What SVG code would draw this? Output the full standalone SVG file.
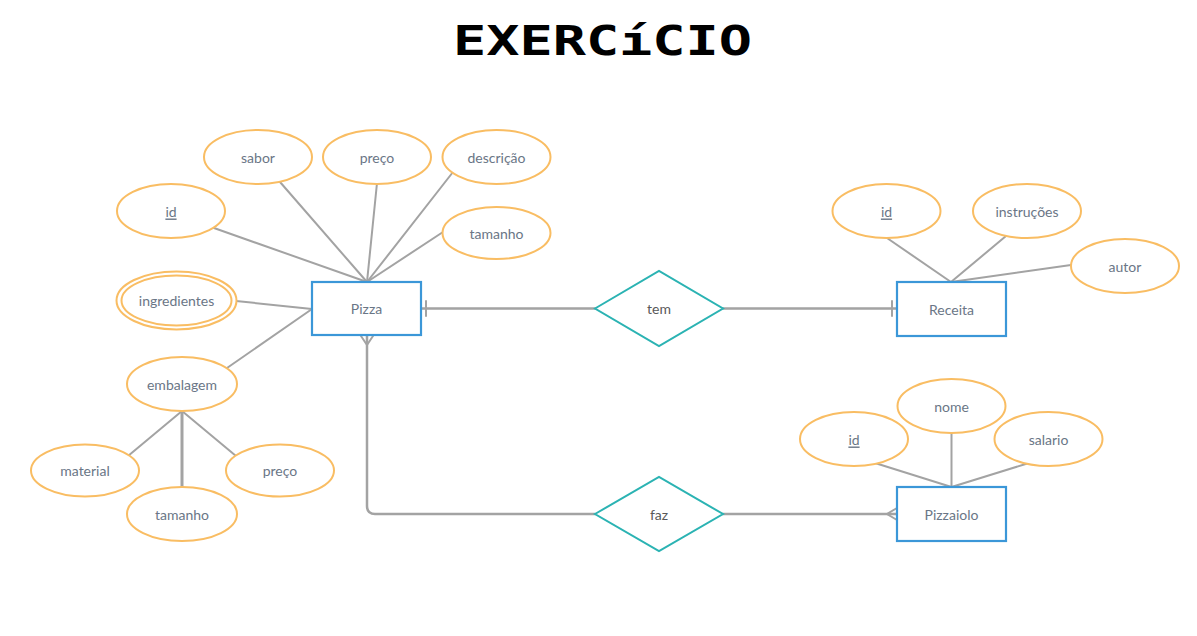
<svg xmlns="http://www.w3.org/2000/svg" width="1197" height="636" viewBox="0 0 1197 636">
<style>
.attr{fill:#ffffff;stroke:#f9bd63;stroke-width:2}
.ent{fill:#ffffff;stroke:#3b97d8;stroke-width:2.2}
.rel{fill:#ffffff;stroke:#2bb3b3;stroke-width:2}
.ln{fill:none;stroke:#a3a3a3;stroke-width:2;stroke-linecap:round}
.t{font-family:Lato,"Open Sans","Liberation Sans",sans-serif;font-size:14px;fill:#6a7686;text-anchor:middle;dominant-baseline:central}
.rt{fill:#595959}
.u{text-decoration:underline}
.title{font-family:"DejaVu Sans Mono","Liberation Mono",monospace;font-weight:bold;font-size:41px;fill:#000000}
</style>
<rect width="1197" height="636" fill="#ffffff"/>
<text class="title" x="453" y="55" textLength="299" lengthAdjust="spacingAndGlyphs">EXERCíCIO</text>

<g id="connectors">
  <!-- Pizza attributes -->
  <line class="ln" x1="214" y1="228" x2="367" y2="282"/>
  <line class="ln" x1="280" y1="182" x2="367" y2="282"/>
  <line class="ln" x1="377" y1="183" x2="367" y2="282"/>
  <line class="ln" x1="453" y1="172" x2="367" y2="282"/>
  <line class="ln" x1="443" y1="232" x2="367" y2="282"/>
  <line class="ln" x1="236" y1="301" x2="312" y2="309"/>
  <line class="ln" x1="227" y1="368" x2="312" y2="309"/>
  <line class="ln" x1="182" y1="411" x2="128" y2="456"/>
  <line class="ln" x1="182" y1="411" x2="182" y2="487" style="stroke-width:3"/>
  <line class="ln" x1="182" y1="411" x2="236" y2="456"/>
  <!-- Receita attributes -->
  <line class="ln" x1="887" y1="238" x2="951" y2="282"/>
  <line class="ln" x1="1006" y1="236" x2="951" y2="282"/>
  <line class="ln" x1="1071" y1="265" x2="951" y2="282"/>
  <!-- Pizzaiolo attributes -->
  <line class="ln" x1="875" y1="463" x2="951.5" y2="487"/>
  <line class="ln" x1="951.5" y1="433" x2="951.5" y2="487"/>
  <line class="ln" x1="1029" y1="463" x2="951.5" y2="487"/>
  <!-- Pizza - tem - Receita -->
  <line class="ln" x1="421" y1="308.5" x2="595" y2="308.5" style="stroke-width:2.5"/>
  <line class="ln" x1="426" y1="301" x2="426" y2="316"/>
  <line class="ln" x1="723" y1="308.5" x2="897" y2="308.5" style="stroke-width:2.5"/>
  <line class="ln" x1="892" y1="301" x2="892" y2="316"/>
  <!-- Pizza - faz - Pizzaiolo -->
  <path class="ln" d="M367 336 V506 Q367 514 375 514 H595" style="stroke-width:2.5"/>
  <path class="ln" d="M361 336 L367 345 L373 336"/>
  <path class="ln" d="M723 514 H897" style="stroke-width:2.5"/>
  <path class="ln" d="M897 508 L887 514 L897 520"/>
</g>

<g id="pizza">
  <rect class="ent" x="312" y="282" width="109" height="53"/>
  <text class="t" x="366.5" y="308.5">Pizza</text>
</g>
<g id="receita">
  <rect class="ent" x="897" y="282" width="109" height="54"/>
  <text class="t" x="951.5" y="309">Receita</text>
</g>
<g id="pizzaiolo">
  <rect class="ent" x="897" y="487" width="109" height="54"/>
  <text class="t" x="951.5" y="514">Pizzaiolo</text>
</g>

<g id="tem">
  <polygon class="rel" points="595,308.5 659,271 723,308.5 659,346"/>
  <text class="t rt" x="659" y="308.5">tem</text>
</g>
<g id="faz">
  <polygon class="rel" points="595,514 659,477 723,514 659,551"/>
  <text class="t rt" x="659" y="514">faz</text>
</g>

<g id="pizza-id">
  <ellipse class="attr" cx="171" cy="211" rx="54" ry="27"/>
  <text class="t u" x="171" y="211">id</text>
</g>
<g id="pizza-sabor">
  <ellipse class="attr" cx="258" cy="157" rx="54" ry="27"/>
  <text class="t" x="258" y="157">sabor</text>
</g>
<g id="pizza-preco">
  <ellipse class="attr" cx="377" cy="157" rx="54" ry="27"/>
  <text class="t" x="377" y="157">preço</text>
</g>
<g id="pizza-descricao">
  <ellipse class="attr" cx="496.5" cy="157" rx="54" ry="27"/>
  <text class="t" x="496.5" y="157">descrição</text>
</g>
<g id="pizza-tamanho">
  <ellipse class="attr" cx="496.5" cy="233" rx="54" ry="26"/>
  <text class="t" x="496.5" y="233">tamanho</text>
</g>
<g id="pizza-ingredientes">
  <ellipse class="attr" cx="176.5" cy="300.5" rx="60" ry="29"/>
  <ellipse class="attr" cx="176.5" cy="300.5" rx="55" ry="25"/>
  <text class="t" x="176.5" y="300.5">ingredientes</text>
</g>
<g id="pizza-embalagem">
  <ellipse class="attr" cx="182" cy="384" rx="55" ry="27"/>
  <text class="t" x="182" y="384">embalagem</text>
</g>
<g id="emb-material">
  <ellipse class="attr" cx="85" cy="470.5" rx="54" ry="26"/>
  <text class="t" x="85" y="470.5">material</text>
</g>
<g id="emb-tamanho">
  <ellipse class="attr" cx="182" cy="514" rx="55" ry="27"/>
  <text class="t" x="182" y="514">tamanho</text>
</g>
<g id="emb-preco">
  <ellipse class="attr" cx="280" cy="470.5" rx="54" ry="26"/>
  <text class="t" x="280" y="470.5">preço</text>
</g>

<g id="receita-id">
  <ellipse class="attr" cx="886.5" cy="211" rx="54" ry="27"/>
  <text class="t u" x="886.5" y="211">id</text>
</g>
<g id="receita-instrucoes">
  <ellipse class="attr" cx="1027" cy="211" rx="54" ry="27"/>
  <text class="t" x="1027" y="211">instruções</text>
</g>
<g id="receita-autor">
  <ellipse class="attr" cx="1125" cy="266" rx="54" ry="27"/>
  <text class="t" x="1125" y="266">autor</text>
</g>

<g id="pizzaiolo-id">
  <ellipse class="attr" cx="854" cy="439" rx="54" ry="27"/>
  <text class="t u" x="854" y="439">id</text>
</g>
<g id="pizzaiolo-nome">
  <ellipse class="attr" cx="951.5" cy="406" rx="54" ry="27"/>
  <text class="t" x="951.5" y="406">nome</text>
</g>
<g id="pizzaiolo-salario">
  <ellipse class="attr" cx="1048.5" cy="439" rx="54" ry="27"/>
  <text class="t" x="1048.5" y="439">salario</text>
</g>
</svg>
